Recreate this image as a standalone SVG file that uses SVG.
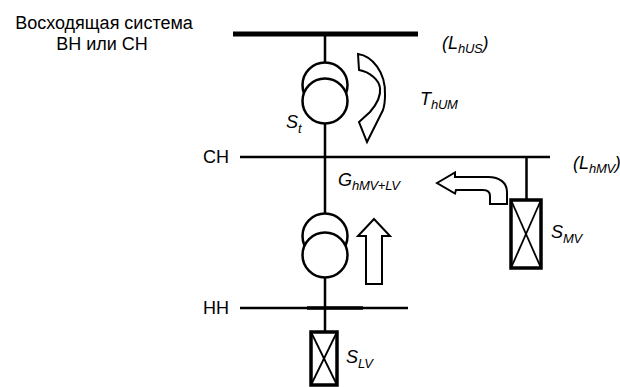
<svg xmlns="http://www.w3.org/2000/svg" width="620" height="387" viewBox="0 0 620 387">
<style>
text { font-family: "Liberation Sans", Arial, sans-serif; fill: #000; }
.t { font-size: 18px; }
.it { font-size: 18px; font-style: italic; }
.sub { font-size: 13px; letter-spacing: -0.3px; }
.ln { stroke: #000; stroke-width: 2.5; fill: none; }
.tr { stroke: #000; stroke-width: 2.5; fill: #fff; }
.arr { stroke: #000; stroke-width: 2; fill: #fff; stroke-linejoin: miter; }
.box { stroke: #000; stroke-width: 3.5; fill: #fff; }
.x { stroke: #000; stroke-width: 1.8; }
</style>
<g id="title">
<text class="t" x="104" y="29" text-anchor="middle">Восходящая система</text>
<text class="t" x="102" y="50" text-anchor="middle">ВН или СН</text>
</g>
<g id="connectors">
<line class="ln" x1="325" y1="34" x2="325" y2="332"/>
<line class="ln" x1="526.5" y1="157" x2="526.5" y2="200"/>
</g>
<g id="bus-top">
<line x1="233" y1="34" x2="418" y2="34" stroke="#000" stroke-width="5"/>
<text class="it" x="442" y="49">(L<tspan class="sub" dy="4">hUS</tspan><tspan dy="-4">)</tspan></text>
</g>
<g id="bus-mv">
<line class="ln" x1="240" y1="157" x2="550" y2="157"/>
<text class="t" x="203" y="163" font-size="17">СН</text>
<text class="it" x="573" y="169">(L<tspan class="sub" dy="4">hMV</tspan><tspan dy="-4">)</tspan></text>
</g>
<g id="bus-lv">
<line class="ln" x1="240" y1="308" x2="408" y2="308"/>
<line x1="307" y1="308" x2="363" y2="308" stroke="#000" stroke-width="3.5"/>
<text class="t" x="203" y="314" font-size="17">НН</text>
</g>
<g id="transformer-top">
<circle class="tr" cx="325" cy="85" r="22.5"/>
<circle class="tr" cx="325" cy="101" r="22.5"/>
<text class="it" x="286" y="128">S<tspan class="sub" dy="5">t</tspan></text>
</g>
<g id="transformer-bottom">
<circle class="tr" cx="325" cy="236" r="22.5"/>
<circle class="tr" cx="325" cy="255" r="22.5"/>
</g>
<g id="flow-T">
<path class="arr" d="M358,54 C372,56 386,72 385,95 C385,102 384,107 383,110 L367,142 L359,122 L370,112 C377,104 381,96 380,88 C379,80 370,72 359,70 Z"/>
<text class="it" x="420" y="105">T<tspan class="sub" dy="4">hUM</tspan></text>
</g>
<g id="flow-G">
<path class="arr" d="M437,183 L455,172.5 L455,177 L488,177 C500,177 507,183 507,192 L507,204 L490,204 L490,196 C490,192 487,190 483,190 L456,190 L455,193.5 Z"/>
<text class="it" x="338" y="186">G<tspan class="sub" dy="4">hMV+LV</tspan></text>
</g>
<g id="flow-up">
<path class="arr" d="M374,219 L390,236 L382,236 L382,284 L366,284 L366,236 L358,236 Z"/>
</g>
<g id="source-MV">
<rect class="box" x="511" y="200" width="30" height="68"/>
<line class="x" x1="511" y1="200" x2="541" y2="268"/>
<line class="x" x1="541" y1="200" x2="511" y2="268"/>
<text class="it" x="551" y="238">S<tspan class="sub" dy="5">MV</tspan></text>
</g>
<g id="source-LV">
<rect class="box" x="311" y="332" width="26" height="53"/>
<line class="x" x1="311" y1="332" x2="337" y2="385"/>
<line class="x" x1="337" y1="332" x2="311" y2="385"/>
<text class="it" x="346" y="363">S<tspan class="sub" dy="5">LV</tspan></text>
</g>
</svg>
